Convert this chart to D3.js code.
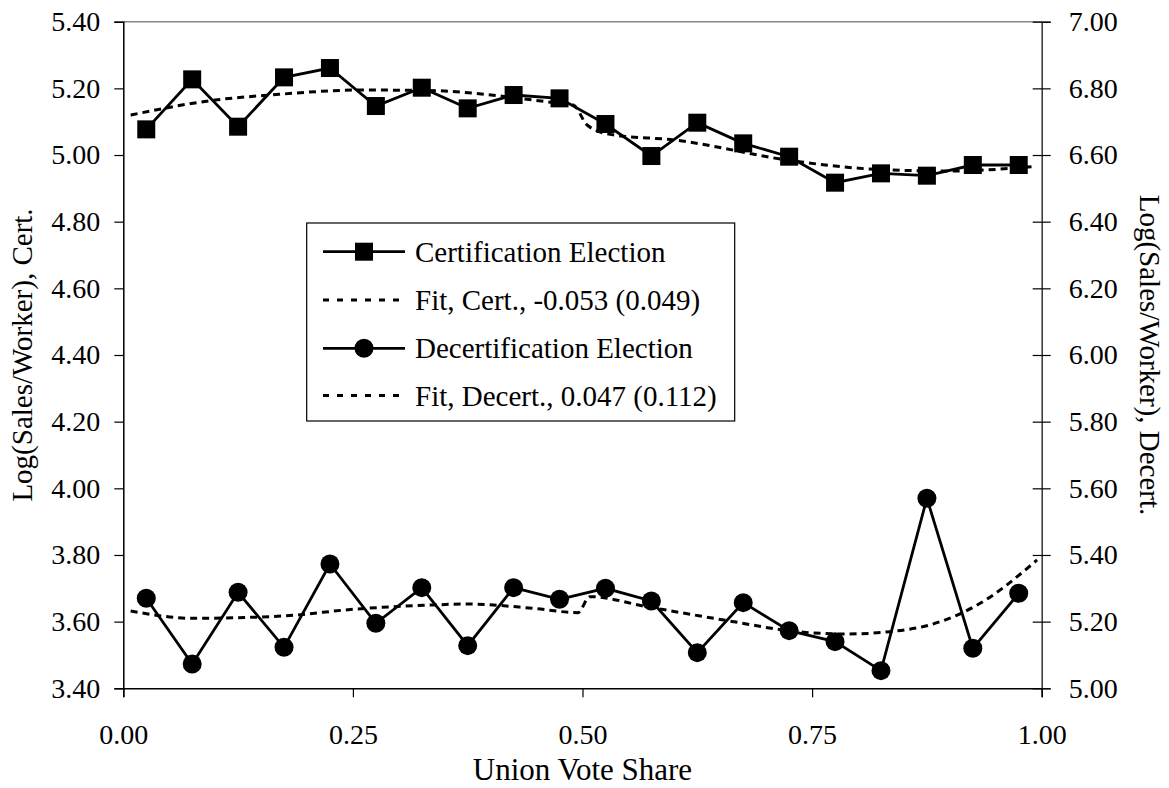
<!DOCTYPE html>
<html>
<head>
<meta charset="utf-8">
<script src="https://cdn.jsdelivr.net/npm/d3@7"></script>
<style>
  html, body { margin: 0; padding: 0; background: #fff; }
  svg { display: block; }
  text { font-family: "Liberation Serif", "Times New Roman", Times, serif; fill: #000; }
</style>
</head>
<body>
<svg id="chart" width="1169" height="788"></svg>
<script>
// ---- data ----
const voteShare = [0.025,0.075,0.125,0.175,0.225,0.275,0.325,0.375,0.425,0.475,
                   0.525,0.575,0.625,0.675,0.725,0.775,0.825,0.875,0.925,0.975];
const certValues = [5.077,5.227,5.085,5.233,5.261,5.147,5.202,5.140,5.180,5.170,
                    5.093,4.997,5.097,5.035,4.995,4.917,4.945,4.938,4.970,4.970];
const decertValues = [5.270,5.073,5.288,5.123,5.373,5.195,5.302,5.128,5.302,5.267,
                      5.300,5.262,5.107,5.257,5.173,5.140,5.053,5.570,5.120,5.285];
const certFitX = [0.008,0.10,0.16,0.26,0.34,0.41,0.475,0.49,0.505,0.53,0.60,0.73,0.82,0.90,0.99];
const certFitY = [5.120,5.165,5.180,5.195,5.193,5.177,5.155,5.150,5.090,5.062,5.045,4.982,4.957,4.952,4.965];
const decertFitX = [0.008,0.076,0.174,0.25,0.337,0.374,0.446,0.495,0.508,0.57,0.66,0.733,0.788,0.835,0.878,0.933,0.995];
const decertFitY = [5.232,5.210,5.217,5.237,5.250,5.253,5.240,5.227,5.275,5.245,5.202,5.170,5.163,5.170,5.190,5.255,5.385];
const xTicks = [0, 0.25, 0.5, 0.75, 1.0];
const leftTicks = [3.4,3.6,3.8,4.0,4.2,4.4,4.6,4.8,5.0,5.2,5.4];
const rightTicks = [5.0,5.2,5.4,5.6,5.8,6.0,6.2,6.4,6.6,6.8,7.0];
const legendLabels = ["Certification Election","Fit, Cert., -0.053 (0.049)",
                      "Decertification Election","Fit, Decert., 0.047 (0.112)"];
const xTitle = "Union Vote Share";
const yLeftTitle = "Log(Sales/Worker), Cert.";
const yRightTitle = "Log(Sales/Worker), Decert.";

// ---- layout ----
const L = 123.3, R = 1041.7, T = 21.7, B = 688.3;
const FONT = '"Liberation Serif","Times New Roman",Times,serif';
const svg = d3.select("#chart");
const x = d3.scaleLinear().domain([0,1]).range([L,R]);
const yL = d3.scaleLinear().domain([3.4,5.4]).range([B,T]);
const yR = d3.scaleLinear().domain([5.0,7.0]).range([B,T]);
const FS = 28, FSL = 29, FST = 29, FSX = 31;

// frame top
svg.append("line").attr("x1",L).attr("x2",R).attr("y1",T).attr("y2",T)
  .attr("stroke","#888").attr("stroke-width",1.5);

// axes
const gx = svg.append("g").attr("transform",`translate(0,${B})`)
  .call(d3.axisBottom(x).tickValues(xTicks).tickFormat(d3.format(".2f")).tickSize(9).tickPadding(27));
const gl = svg.append("g").attr("transform",`translate(${L},0)`)
  .call(d3.axisLeft(yL).tickValues(leftTicks).tickFormat(d3.format(".2f")).tickSize(9).tickPadding(14));
const gr = svg.append("g").attr("transform",`translate(${R},0)`)
  .call(d3.axisRight(yR).tickValues(rightTicks).tickFormat(d3.format(".2f")).tickSize(9).tickPadding(18));
gr.selectAll(".tick line").attr("x1",-9);
[gx,gl,gr].forEach(g => {
  g.attr("font-family",FONT).attr("font-size",FS);
  g.select(".domain").attr("stroke","#000").attr("stroke-width",1.5);
  g.selectAll(".tick line").attr("stroke","#000").attr("stroke-width",1.2);
  g.selectAll(".tick text").style("font-size",FS+"px").style("font-family",FONT);
});
gr.select(".domain").attr("stroke","#333");

// titles
svg.append("text").attr("x",(L+R)/2).attr("y",780).attr("text-anchor","middle")
  .style("font-size",FSX+"px").style("font-family",FONT).text(xTitle);
svg.append("text").attr("transform",`translate(22,${(T+B)/2}) rotate(-90)`)
  .attr("text-anchor","middle").attr("dominant-baseline","central")
  .style("font-size",FST+"px").style("font-family",FONT).text(yLeftTitle);
svg.append("text").attr("transform",`translate(1150,${(T+B)/2}) rotate(90)`)
  .attr("text-anchor","middle").attr("dominant-baseline","central")
  .style("font-size",FST+"px").style("font-family",FONT).text(yRightTitle);

// lines
const lineL = d3.line().x(d=>x(d[0])).y(d=>yL(d[1]));
const lineR = d3.line().x(d=>x(d[0])).y(d=>yR(d[1]));
const lineLs = d3.line().x(d=>x(d[0])).y(d=>yL(d[1])).curve(d3.curveMonotoneX);
const lineRs = d3.line().x(d=>x(d[0])).y(d=>yR(d[1])).curve(d3.curveMonotoneX);
const dash = "7,5";

svg.append("path").datum(certFitX.map((v,i)=>[v,certFitY[i]]))
  .attr("d",lineLs).attr("fill","none").attr("stroke","#000").attr("stroke-width",3).attr("stroke-dasharray",dash);
svg.append("path").datum(decertFitX.map((v,i)=>[v,decertFitY[i]]))
  .attr("d",lineRs).attr("fill","none").attr("stroke","#000").attr("stroke-width",3).attr("stroke-dasharray",dash);

svg.append("path").datum(voteShare.map((v,i)=>[v,certValues[i]]))
  .attr("d",lineL).attr("fill","none").attr("stroke","#000").attr("stroke-width",2.8);
svg.append("path").datum(voteShare.map((v,i)=>[v,decertValues[i]]))
  .attr("d",lineR).attr("fill","none").attr("stroke","#000").attr("stroke-width",2.8);

const SQ = 18;
svg.selectAll("rect.cert").data(voteShare).enter().append("rect")
  .attr("x",(d)=>x(d)-SQ/2).attr("y",(d,i)=>yL(certValues[i])-SQ/2)
  .attr("width",SQ).attr("height",SQ).attr("fill","#000");
svg.selectAll("circle.decert").data(voteShare).enter().append("circle")
  .attr("cx",d=>x(d)).attr("cy",(d,i)=>yR(decertValues[i])).attr("r",9.5).attr("fill","#000");

// legend
const lg = svg.append("g");
lg.append("rect").attr("x",306.7).attr("y",223).attr("width",428).attr("height",198)
  .attr("fill","#fff").attr("stroke","#000").attr("stroke-width",1.2);
const rowsY = [251.7,300,348.3,395.5];
legendLabels.forEach((lab,i)=>{
  const yy = rowsY[i];
  const isFit = i%2===1;
  lg.append("line").attr("x1",323).attr("x2",405).attr("y1",yy).attr("y2",yy)
    .attr("stroke","#000").attr("stroke-width",isFit?3:2.8)
    .attr("stroke-dasharray",isFit?"6,8":null);
  if(i===0) lg.append("rect").attr("x",364-9).attr("y",yy-9).attr("width",18).attr("height",18).attr("fill","#000");
  if(i===2) lg.append("circle").attr("cx",364).attr("cy",yy).attr("r",9.5).attr("fill","#000");
  lg.append("text").attr("x",415).attr("y",yy).attr("dy","0.35em")
    .style("font-size",FSL+"px").style("font-family",FONT).text(lab);
});
</script>
</body>
</html>
